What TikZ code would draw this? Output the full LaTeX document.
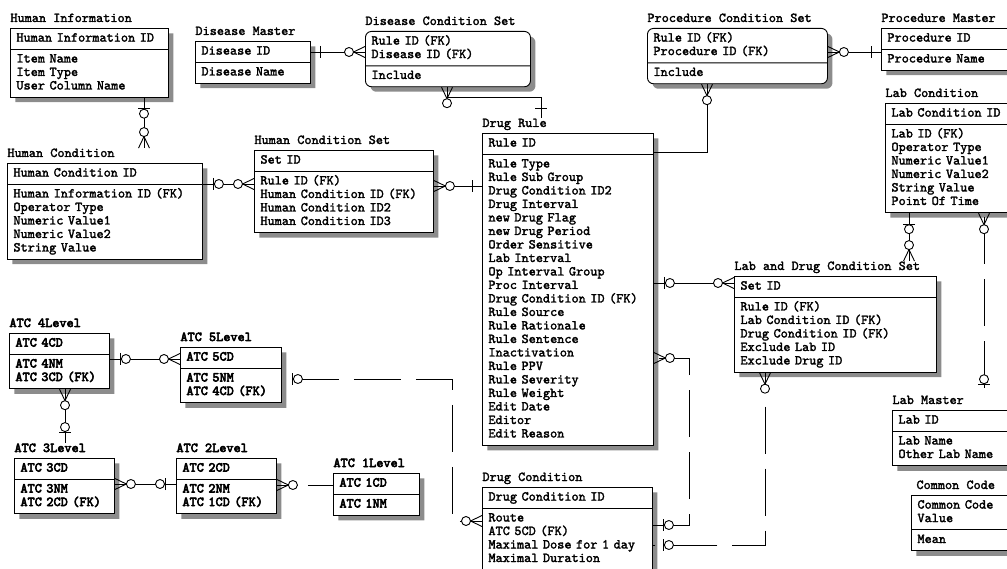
\documentclass[tikz,border=0pt]{standalone}
\usepackage{fontspec}
\usetikzlibrary{shapes.multipart,shadows}
\newfontfamily\entfam{lmmono10-regular.otf}[FakeBold=2]
\newfontfamily\atcfam{lmmono10-regular.otf}[FakeBold=4]
\newcommand{\entfont}{\entfam\fontsize{13.6}{13.5}\selectfont}
\newcommand{\atcfont}{\atcfam\fontsize{13.6}{13.5}\selectfont}
\newcommand{\ent}[2]{\strut#1\strut\nodepart{two}\strut#2\strut}
\tikzset{
  entity/.style={rectangle split, rectangle split parts=2, draw, fill=white,
    anchor=north west, inner xsep=6pt, inner ysep=3.25pt, align=left, font=\entfont,
    drop shadow={shadow xshift=5pt, shadow yshift=-5pt, fill=black!45, opacity=1}},
  condset/.style={entity, rounded corners=6pt},
  atc/.style={entity, font=\atcfont},
  title/.style={anchor=base west, inner sep=0pt, font=\entfont},
  atctitle/.style={title, font=\atcfont},
  nonid/.style={dash pattern=on 47pt off 15pt},
  pics/one/.style={code={\draw (10,-6) -- (10,6);}},
  pics/zone/.style={code={\draw (11,-6) -- (11,6); \draw[fill=white] (16,0) circle (4.5pt);}},
  pics/zmany/.style={code={\draw (0,-5.5) -- (11.5,0) -- (0,5.5); \draw[fill=white] (16,0) circle (4.5pt);}},
}
\begin{document}
\begin{tikzpicture}[x=1pt,y=-1pt,line width=0.9pt]
\useasboundingbox (0,0) rectangle (1007,569);
% entities
\node[entity, text width=146pt] (hi) at (10,28) {\ent{Human Information ID}{Item Name\\Item Type\\User Column Name}};
\node[title] (hi-t) at ([yshift=6pt]hi.north west) {Human Information};
\node[entity, text width=103pt] (dm) at (195,41) {\ent{Disease ID}{Disease Name}};
\node[title] (dm-t) at ([yshift=6pt]dm.north west) {Disease Master};
\node[condset, text width=153pt] (dcs) at (365,31) {\ent{Rule ID (FK)\\Disease ID (FK)}{Include}};
\node[title] (dcs-t) at ([yshift=6pt]dcs.north west) {Disease Condition Set};
\node[condset, text width=168pt] (pcs) at (647,28) {\ent{Rule ID (FK)\\Procedure ID (FK)}{Include}};
\node[title] (pcs-t) at ([yshift=6pt]pcs.north west) {Procedure Condition Set};
\node[entity, text width=147pt] (pm) at (881,28) {\ent{Procedure ID}{Procedure Name}};
\node[title] (pm-t) at ([yshift=6pt]pm.north west) {Procedure Master};
\node[entity, text width=143pt] (lc) at (885,103) {\ent{Lab Condition ID}{Lab ID (FK)\\Operator Type\\Numeric Value1\\Numeric Value2\\String Value\\Point Of Time}};
\node[title] (lc-t) at ([yshift=6pt]lc.north west) {Lab Condition};
\node[entity, text width=183pt] (hc) at (7,163) {\ent{Human Condition ID}{Human Information ID (FK)\\Operator Type\\Numeric Value1\\Numeric Value2\\String Value}};
\node[title] (hc-t) at ([yshift=6pt]hc.north west) {Human Condition};
\node[entity, text width=167pt] (hcs) at (254,150) {\ent{Set ID}{Rule ID (FK)\\Human Condition ID (FK)\\Human Condition ID2\\Human Condition ID3}};
\node[title] (hcs-t) at ([yshift=6pt]hcs.north west) {Human Condition Set};
\node[entity, text width=159pt] (dr) at (482,133) {\ent{Rule ID}{Rule Type\\Rule Sub Group\\Drug Condition ID2\\Drug Interval\\new Drug Flag\\new Drug Period\\Order Sensitive\\Lab Interval\\Op Interval Group\\Proc Interval\\Drug Condition ID (FK)\\Rule Source\\Rule Rationale\\Rule Sentence\\Inactivation\\Rule PPV\\Rule Severity\\Rule Weight\\Edit Date\\Editor\\Edit Reason}};
\node[title] (dr-t) at ([yshift=6pt]dr.north west) {Drug Rule};
\node[entity, text width=190pt] (ldcs) at (734,276) {\ent{Set ID}{Rule ID (FK)\\Lab Condition ID (FK)\\Drug Condition ID (FK)\\Exclude Lab ID\\Exclude Drug ID}};
\node[title] (ldcs-t) at ([yshift=6pt]ldcs.north west) {Lab and Drug Condition Set};
\node[entity, text width=136pt] (lm) at (892,410) {\ent{Lab ID}{Lab Name\\Other Lab Name}};
\node[title] (lm-t) at ([yshift=6pt]lm.north west) {Lab Master};
\node[entity, text width=117pt] (cc) at (911,495) {\ent{Common Code\\Value}{Mean}};
\node[title] (cc-t) at ([yshift=6pt,xshift=5pt]cc.north west) {Common Code};
\node[entity, text width=158pt] (dc) at (482,487) {\ent{Drug Condition ID}{Route\\ATC 5CD (FK)\\Maximal Dose for 1 day\\Maximal Duration}};
\node[title] (dc-t) at ([yshift=6pt]dc.north west) {Drug Condition};
\node[atc, text width=88pt] (atc4) at (9,333) {\ent{ATC 4CD}{ATC 4NM\\ATC 3CD (FK)}};
\node[atctitle] (atc4-t) at ([yshift=6pt]atc4.north west) {ATC 4Level};
\node[atc, text width=89pt] (atc5) at (180,347) {\ent{ATC 5CD}{ATC 5NM\\ATC 4CD (FK)}};
\node[atctitle] (atc5-t) at ([yshift=6pt]atc5.north west) {ATC 5Level};
\node[atc, text width=88pt] (atc3) at (14,458) {\ent{ATC 3CD}{ATC 3NM\\ATC 2CD (FK)}};
\node[atctitle] (atc3-t) at ([yshift=6pt]atc3.north west) {ATC 3Level};
\node[atc, text width=88pt] (atc2) at (176,458) {\ent{ATC 2CD}{ATC 2NM\\ATC 1CD (FK)}};
\node[atctitle] (atc2-t) at ([yshift=6pt]atc2.north west) {ATC 2Level};
\node[atc, text width=74pt] (atc1) at (333,473) {\ent{ATC 1CD}{ATC 1NM}};
\node[atctitle] (atc1-t) at ([yshift=6pt]atc1.north west) {ATC 1Level};
% relationships
\draw (hi.south -| 144,0) -- (hc-t.north -| 144,0);
\pic[rotate=-90] at (hi.south -| 144,0) {zone};
\pic[rotate=90] at (hc-t.north -| 144,0) {zmany};
\draw (hc.east |- 0,184) -- (hcs.west |- 0,184);
\pic at (hc.east |- 0,184) {zone};
\pic[rotate=180] at (hcs.west |- 0,184) {zmany};
\draw (hcs.east |- 0,186) -- (dr.west |- 0,186);
\pic at (hcs.east |- 0,186) {zmany};
\pic[rotate=180] at (dr.west |- 0,186) {one};
\draw (dm.east |- 0,52) -- (dcs.west |- 0,52);
\pic at (dm.east |- 0,52) {one};
\pic[rotate=180] at (dcs.west |- 0,52) {zmany};
\draw (dcs.south -| 447,0) -- (447,97) -- (541,97) -- (dr-t.north -| 541,0);
\pic[rotate=-90] at (dcs.south -| 447,0) {zmany};
\pic[rotate=90] at (dr-t.north -| 541,0) {one};
\draw (dr.east |- 0,152) -- (707,152) -- (pcs.south -| 707,0);
\pic[rotate=-90] at (pcs.south -| 707,0) {zmany};
\draw (pcs.east |- 0,52) -- (pm.west |- 0,52);
\pic at (pcs.east |- 0,52) {zmany};
\pic[rotate=180] at (pm.west |- 0,52) {one};
\draw (dr.east |- 0,283) -- (ldcs.west |- 0,283);
\pic at (dr.east |- 0,283) {zone};
\pic[rotate=180] at (ldcs.west |- 0,283) {zmany};
\draw[nonid] (dc.east |- 0,525) -- (689,525) -- (689,358) -- (dr.east |- 0,358);
\pic at (dc.east |- 0,525) {zone};
\pic at (dr.east |- 0,358) {zmany};
\draw[nonid, dash phase=28pt] (ldcs.south -| 765,0) -- (765,545) -- (dc.east |- 0,545);
\pic[rotate=-90] at (ldcs.south -| 765,0) {zmany};
\pic at (dc.east |- 0,545) {zone};
\draw (lc.south -| 909,0) -- (ldcs-t.north -| 909,0);
\pic[rotate=-90] at (lc.south -| 909,0) {zone};
\pic[rotate=90] at (ldcs-t.north -| 909,0) {zmany};
\draw[nonid, dash phase=58pt] (lc.south -| 984,0) -- (lm-t.north -| 984,0);
\pic[rotate=-90] at (lc.south -| 984,0) {zmany};
\pic[rotate=90] at (lm-t.north -| 984,0) {zone};
\draw (atc4.east |- 0,359) -- (atc5.west |- 0,359);
\pic at (atc4.east |- 0,359) {zone};
\pic[rotate=180] at (atc5.west |- 0,359) {zmany};
\draw (atc4.south -| 65,0) -- (atc3-t.north -| 65,0);
\pic[rotate=-90] at (atc4.south -| 65,0) {zmany};
\pic[rotate=90] at (atc3-t.north -| 65,0) {zone};
\draw (atc3.east |- 0,484) -- (atc2.west |- 0,484);
\pic at (atc3.east |- 0,484) {zmany};
\pic[rotate=180] at (atc2.west |- 0,484) {zone};
\draw[dash pattern=on 21pt off 10pt on 40pt] (atc2.east |- 0,485) -- (atc1.west |- 0,485);
\pic at (atc2.east |- 0,485) {zmany};
\draw[nonid, dash phase=52pt] (atc5.east |- 0,379) -- (452,379) -- (452,521) -- (dc.west |- 0,521);
\pic at (atc5.east |- 0,379) {zone};
\pic[rotate=180] at (dc.west |- 0,521) {zmany};
\end{tikzpicture}
\end{document}
